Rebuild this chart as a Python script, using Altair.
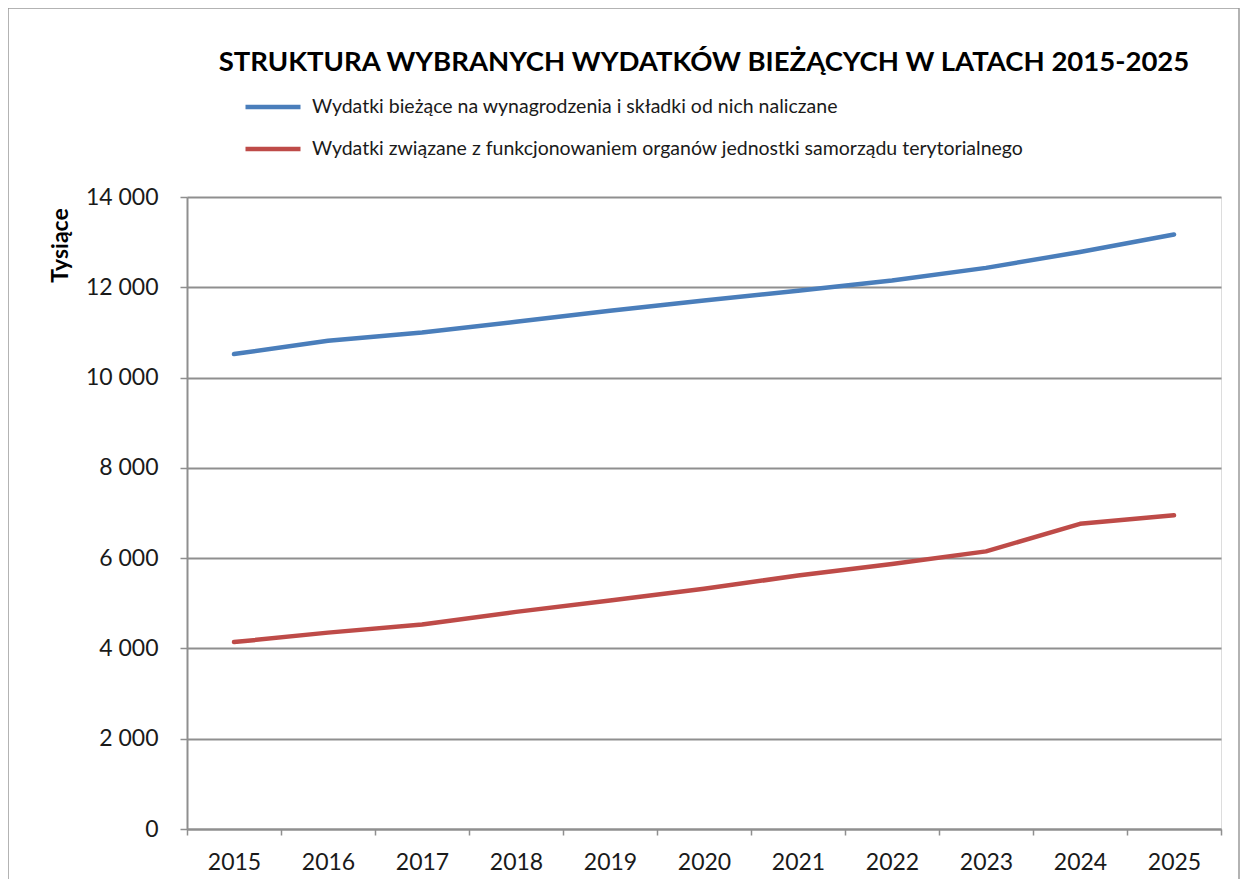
import altair as alt
import pandas as pd

# --- data (thousands) ---
years = ["2015", "2016", "2017", "2018", "2019", "2020", "2021", "2022", "2023", "2024", "2025"]
wynagrodzenia = [10520, 10815, 11000, 11235, 11480, 11705, 11925, 12150, 12430, 12780, 13170]
organy = [4140, 4350, 4530, 4810, 5060, 5320, 5615, 5870, 6150, 6760, 6950]
series_names = [
    "Wydatki bieżące na wynagrodzenia i składki od nich naliczane",
    "Wydatki związane z funkcjonowaniem organów jednostki samorządu terytorialnego",
]
series_colors = ["#4A7EBB", "#BE4B48"]
y_ticks = [0, 2000, 4000, 6000, 8000, 10000, 12000, 14000]
title_text = "STRUKTURA WYBRANYCH WYDATKÓW BIEŻĄCYCH W LATACH 2015-2025"
y_title = "Tysiące"

rows = []
for name, vals in zip(series_names, [wynagrodzenia, organy]):
    for yr, v in zip(years, vals):
        rows.append({"Rok": yr, "Seria": name, "Wartość": v})
df = pd.DataFrame(rows)

FONT = "Lato"
GRID = "#8f8f8f"

lines = alt.Chart(df).mark_line(strokeWidth=4.5, strokeCap="round", strokeJoin="round").encode(
    x=alt.X(
        "Rok:O",
        sort=years,
        scale=alt.Scale(paddingInner=0, paddingOuter=0),
        axis=alt.Axis(
            title=None,
            labelFont=FONT,
            labelFontSize=23,
            labelColor="#1a1a1a",
            labelAngle=0,
            labelPadding=16,
            tickBand="extent",
            tickSize=6,
            tickColor=GRID,
            tickWidth=1.5,
            domainColor=GRID,
            domainWidth=2,
            grid=False,
        ),
    ),
    y=alt.Y(
        "Wartość:Q",
        scale=alt.Scale(domain=[0, 14000], nice=False),
        axis=alt.Axis(
            values=y_ticks,
            title=y_title,
            titleFont=FONT,
            titleFontSize=23,
            titleFontWeight="bold",
            titleColor="#000000",
            titleAngle=270,
            titleAlign="center",
            titleBaseline="middle",
            titleX=-127,
            titleY=48,
            labelFont=FONT,
            labelFontSize=23,
            labelColor="#1a1a1a",
            labelPadding=22,
            labelExpr="replace(format(datum.value, ','), ',', ' ')",
            tickSize=7,
            tickColor=GRID,
            tickWidth=1.5,
            domainColor=GRID,
            domainWidth=2,
            grid=True,
            gridColor=GRID,
            gridWidth=2,
        ),
    ),
    color=alt.Color(
        "Seria:N",
        sort=series_names,
        scale=alt.Scale(domain=series_names, range=series_colors),
        legend=alt.Legend(
            title=None,
            orient="none",
            legendX=56,
            legendY=-120,
            direction="vertical",
            symbolType="stroke",
            symbolSize=3025,
            symbolStrokeWidth=4.5,
            labelFont=FONT,
            labelFontSize=19.5,
            labelColor="#1a1a1a",
            labelOffset=9,
            labelLimit=1000,
            rowPadding=2,
        ),
    ),
)

frame = alt.Chart(pd.DataFrame({"k": [0]})).mark_rect(
    fill=None, stroke="#9a9a9a", strokeWidth=1.5
).encode(
    x=alt.value(-179), x2=alt.value(1052), y=alt.value(-189), y2=alt.value(700)
)

chart = (
    alt.layer(frame, lines)
    .properties(
        width=1034,
        height=632,
        padding={"left": 179, "top": 189, "right": 19, "bottom": 50},
        autosize=alt.AutoSizeParams(type="none"),
        title=alt.TitleParams(
            text=title_text,
            font=FONT,
            fontSize=27.5,
            fontWeight="bold",
            color="#000000",
            anchor="middle",
            offset=-69,
        ),
    )
    .configure_view(stroke=None)
    .configure(background="white")
)

chart.save("out.html", embed_options={"renderer": "svg", "actions": False})
